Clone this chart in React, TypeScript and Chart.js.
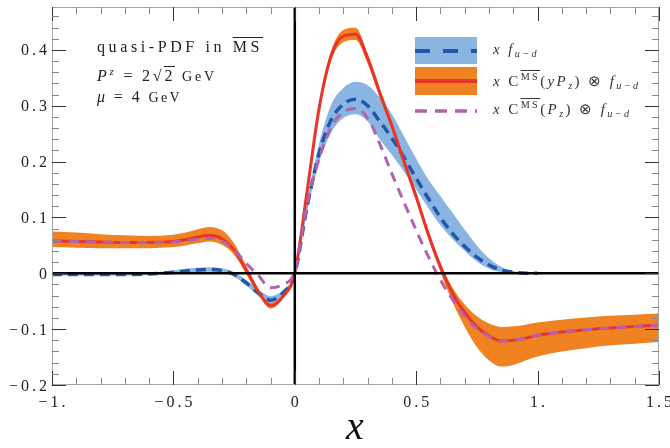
import React, { useEffect, useRef } from "react";
import { Chart, registerables } from "chart.js";
Chart.register(...registerables);

// ---------------- data ----------------
const xs = [-1, -0.9, -0.8, -0.7, -0.6, -0.5, -0.45, -0.4, -0.35, -0.3, -0.25, -0.2, -0.15, -0.1, -0.05, 0, 0.05, 0.1, 0.15, 0.2, 0.25, 0.3, 0.35, 0.4, 0.45, 0.5, 0.55, 0.6, 0.65, 0.7, 0.75, 0.8, 0.85, 0.9, 0.95, 1.0, 1.1, 1.2, 1.3, 1.4, 1.5];

// x f_{u-d} (lattice) central + band
const fCentral = [-0.002, -0.002, -0.002, -0.002, -0.001, 0.002, 0.004, 0.006, 0.007, 0.005, -0.002, -0.017, -0.035, -0.048, -0.036, 0, 0.118, 0.215, 0.275, 0.303, 0.312, 0.3, 0.272, 0.242, 0.207, 0.17, 0.134, 0.1, 0.071, 0.048, 0.029, 0.015, 0.006, 0.002, 0, 0, null, null, null, null, null];
const fUpper = [0, 0, 0, 0, 0.001, 0.005, 0.008, 0.01, 0.011, 0.009, 0.002, -0.012, -0.029, -0.041, -0.03, 0.003, 0.128, 0.232, 0.302, 0.332, 0.343, 0.337, 0.315, 0.285, 0.245, 0.205, 0.168, 0.138, 0.108, 0.078, 0.05, 0.027, 0.012, 0.004, 0.001, 0, null, null, null, null, null];
const fLower = [-0.004, -0.004, -0.004, -0.004, -0.003, -0.001, 0.001, 0.002, 0.003, 0.001, -0.006, -0.022, -0.041, -0.055, -0.041, -0.003, 0.108, 0.198, 0.252, 0.278, 0.285, 0.272, 0.24, 0.212, 0.182, 0.15, 0.117, 0.086, 0.061, 0.04, 0.021, 0.008, 0.002, 0, 0, 0, null, null, null, null, null];

// x C(yPz) ⊗ f central + band
const cyCentral = [0.058, 0.057, 0.056, 0.055, 0.055, 0.057, 0.06, 0.065, 0.068, 0.062, 0.042, 0.006, -0.033, -0.058, -0.042, 0, 0.145, 0.295, 0.39, 0.425, 0.428, 0.385, 0.323, 0.264, 0.2, 0.137, 0.07, 0.012, -0.036, -0.07, -0.096, -0.112, -0.121, -0.12, -0.116, -0.111, -0.105, -0.101, -0.098, -0.095, -0.093];
const cyUpper = [0.075, 0.073, 0.07, 0.068, 0.067, 0.069, 0.073, 0.079, 0.083, 0.077, 0.054, 0.014, -0.027, -0.053, -0.037, 0.004, 0.153, 0.303, 0.399, 0.436, 0.44, 0.394, 0.332, 0.272, 0.208, 0.145, 0.077, 0.018, -0.026, -0.056, -0.077, -0.09, -0.096, -0.095, -0.092, -0.088, -0.083, -0.079, -0.076, -0.074, -0.072];
const cyLower = [0.047, 0.046, 0.045, 0.045, 0.045, 0.047, 0.05, 0.054, 0.057, 0.051, 0.033, -0.001, -0.038, -0.063, -0.046, -0.004, 0.137, 0.287, 0.381, 0.414, 0.418, 0.376, 0.315, 0.256, 0.192, 0.129, 0.062, 0.002, -0.052, -0.096, -0.132, -0.156, -0.167, -0.164, -0.156, -0.149, -0.14, -0.134, -0.129, -0.126, -0.123];

// x C(Pz) ⊗ f
const cPz = [0.058, 0.057, 0.056, 0.055, 0.055, 0.056, 0.058, 0.061, 0.063, 0.058, 0.042, 0.018, -0.004, -0.026, -0.02, 0.004, 0.122, 0.205, 0.262, 0.289, 0.295, 0.278, 0.232, 0.178, 0.127, 0.077, 0.03, -0.012, -0.047, -0.077, -0.099, -0.113, -0.121, -0.12, -0.116, -0.111, -0.105, -0.101, -0.098, -0.095, -0.093];

const xTickValues = [-1, -0.5, 0, 0.5, 1, 1.5];
const xTickLabels = ["\u22121.", "\u22120.5", "0", "0.5", "1.", "1.5"];
const yTickValues = [-0.2, -0.1, 0, 0.1, 0.2, 0.3, 0.4];
const yTickLabels = ["\u22120.2", "\u22120.1", "0", "0.1", "0.2", "0.3", "0.4"];
const X_MIN = -1, X_MAX = 1.5, Y_MIN = -0.2, Y_MAX = 0.477;

// ---------------- styles ----------------
const BLUE_BAND = "#8AB4E2";
const BLUE_LINE = "#2257A8";
const ORANGE = "#F18222";
const RED = "#E8352B";
const PURPLE = "#B461AE";
const SERIF = '"Liberation Serif", "Times New Roman", serif';

const pts = (ys: (number | null)[]) =>
  xs.map((x, i) => ({ x, y: ys[i] })).filter((p) => p.y !== null) as { x: number; y: number }[];

function textSpaced(ctx: CanvasRenderingContext2D, text: string, x: number, y: number, align: "center" | "right", ls: number) {
  (ctx as any).letterSpacing = "0px";
  const w0 = ctx.measureText(text).width;
  const n = Array.from(text).length;
  const w = w0 + (n - 1) * ls;
  const start = align === "center" ? x - w / 2 : x - w;
  (ctx as any).letterSpacing = ls + "px";
  ctx.textAlign = "left";
  ctx.fillText(text, start, y);
  (ctx as any).letterSpacing = "0px";
}

const framePlugin = {
  id: "frameAxes",
  afterDatasetsDraw(chart: any) {
    const { ctx, chartArea: a, scales } = chart;
    const xs_ = scales.x, ys_ = scales.y;
    ctx.save();
    // axes at zero
    ctx.strokeStyle = "#000";
    ctx.lineWidth = 2.5;
    const x0 = xs_.getPixelForValue(0), y0 = ys_.getPixelForValue(0);
    ctx.beginPath();
    ctx.moveTo(x0, a.top); ctx.lineTo(x0, a.bottom);
    ctx.moveTo(a.left, y0); ctx.lineTo(a.right, y0);
    ctx.stroke();
    // frame
    ctx.strokeStyle = "#a6a6a6";
    ctx.lineWidth = 1;
    ctx.strokeRect(a.left + 0.5, a.top + 0.5, a.right - a.left - 1, a.bottom - a.top - 1);
    // x ticks
    for (let k = 0; k <= 25; k++) {
      const v = X_MIN + k * 0.1;
      const major = k % 5 === 0;
      const px = Math.round(xs_.getPixelForValue(v)) + 0.5;
      const len = major ? 14 : 7;
      ctx.strokeStyle = major ? "#333" : "#888";
      ctx.lineWidth = 1;
      ctx.beginPath();
      ctx.moveTo(px, a.bottom); ctx.lineTo(px, a.bottom - len);
      ctx.moveTo(px, a.top); ctx.lineTo(px, a.top + len);
      ctx.stroke();
    }
    // y ticks
    for (let k = 0; k <= 33; k++) {
      const v = Y_MIN + k * 0.02;
      if (v > Y_MAX) break;
      const major = k % 5 === 0;
      const py = Math.round(ys_.getPixelForValue(v)) + 0.5;
      const len = major ? 14 : 7;
      ctx.strokeStyle = major ? "#333" : "#888";
      ctx.lineWidth = 1;
      ctx.beginPath();
      ctx.moveTo(a.left, py); ctx.lineTo(a.left + len, py);
      ctx.moveTo(a.right, py); ctx.lineTo(a.right - len, py);
      ctx.stroke();
    }
    // tick labels
    ctx.fillStyle = "#222";
    ctx.font = "16px " + SERIF;
    ctx.textBaseline = "alphabetic";
    xTickValues.forEach((v, i) => {
      textSpaced(ctx, xTickLabels[i], xs_.getPixelForValue(v), a.bottom + 22, "center", 3);
    });
    yTickValues.forEach((v, i) => {
      textSpaced(ctx, yTickLabels[i], a.left - 5, ys_.getPixelForValue(v) + 5.5, "right", 3);
    });
    ctx.restore();
  },
  afterDraw(chart: any) {
    const ctx = chart.ctx;
    ctx.save();
    ctx.fillStyle = BLUE_BAND;
    ctx.fillRect(415, 37, 62, 27);
    ctx.strokeStyle = BLUE_LINE;
    ctx.lineWidth = 4;
    ctx.setLineDash([15, 13]);
    ctx.beginPath(); ctx.moveTo(415, 51); ctx.lineTo(477, 51); ctx.stroke();
    ctx.fillStyle = ORANGE;
    ctx.fillRect(415, 67, 62, 28);
    ctx.setLineDash([]);
    ctx.strokeStyle = RED;
    ctx.lineWidth = 4;
    ctx.beginPath(); ctx.moveTo(415, 81); ctx.lineTo(477, 81); ctx.stroke();
    ctx.strokeStyle = PURPLE;
    ctx.lineWidth = 3.5;
    ctx.setLineDash([12, 8]);
    ctx.beginPath(); ctx.moveTo(415, 111); ctx.lineTo(477, 111); ctx.stroke();
    ctx.restore();
  },
};

export default function App() {
  const ref = useRef<HTMLCanvasElement>(null);
  useEffect(() => {
    const common = { pointRadius: 0, cubicInterpolationMode: "monotone" as const, spanGaps: false };
    const chart = new Chart(ref.current!, {
      type: "line",
      data: {
        datasets: [
          { ...common, data: pts(fUpper), borderWidth: 0, borderColor: "rgba(0,0,0,0)", backgroundColor: BLUE_BAND, fill: "+1", order: 7 },
          { ...common, data: pts(fLower), borderWidth: 0, borderColor: "rgba(0,0,0,0)", fill: false, order: 6 },
          { ...common, data: pts(cyUpper), borderWidth: 0, borderColor: "rgba(0,0,0,0)", backgroundColor: ORANGE, fill: "+1", order: 5 },
          { ...common, data: pts(cyLower), borderWidth: 0, borderColor: "rgba(0,0,0,0)", fill: false, order: 4 },
          { ...common, data: pts(fCentral), borderWidth: 3.5, borderColor: BLUE_LINE, borderDash: [10, 6], fill: false, order: 3 },
          { ...common, data: pts(cyCentral), borderWidth: 3, borderColor: RED, fill: false, order: 2 },
          { ...common, data: pts(cPz), borderWidth: 3, borderColor: PURPLE, borderDash: [10, 7], fill: false, order: 1 },
        ] as any,
      },
      options: {
        animation: false,
        responsive: false,
        devicePixelRatio: 1,
        events: [],
        layout: { padding: { left: 0, right: 11, top: 7, bottom: 0 } },
        plugins: { legend: { display: false }, tooltip: { enabled: false } },
        scales: {
          x: {
            type: "linear",
            min: X_MIN,
            max: X_MAX,
            grid: { display: false, drawTicks: false },
            border: { display: false },
            ticks: { display: false },
            afterFit: (s: any) => { s.height = 63; },
          },
          y: {
            type: "linear",
            min: Y_MIN,
            max: Y_MAX,
            grid: { display: false, drawTicks: false },
            border: { display: false },
            ticks: { display: false },
            afterFit: (s: any) => { s.width = 52; },
          },
        },
      },
      plugins: [framePlugin],
    });
    return () => chart.destroy();
  }, []);

  const abs = (left: number, top: number, extra: React.CSSProperties = {}): React.CSSProperties => ({
    position: "absolute", left, top, whiteSpace: "nowrap", lineHeight: 1, ...extra,
  });
  const sup: React.CSSProperties = { fontSize: "0.68em", position: "relative", top: "-0.55em" };
  const sub: React.CSSProperties = { fontSize: "0.68em", position: "relative", top: "0.3em" };
  const over: React.CSSProperties = { textDecoration: "overline" };

  return (
    <div style={{ position: "fixed", left: 0, top: 0, width: 670, height: 448, background: "#fff", fontFamily: SERIF, color: "#222" }}>
      <canvas ref={ref} width={670} height={448} style={{ position: "absolute", left: 0, top: 0, width: 670, height: 448 }} />
      <div style={abs(97, 39, { fontSize: 16, letterSpacing: "3.6px" })}>
        quasi-PDF in <span style={over}>MS</span>
      </div>
      <div style={abs(97, 68, { fontSize: 16, letterSpacing: "2.8px" })}>
        <i>P</i><span style={sup}><i>z</i></span> = 2<span>{"\u221A"}</span><span style={{ borderTop: "1px solid #222" }}>2</span> <span style={{ fontSize: 14 }}>GeV</span>
      </div>
      <div style={abs(97, 89, { fontSize: 16, letterSpacing: "2.4px" })}>
        <i>{"\u03BC"}</i> = 4 <span style={{ fontSize: 14 }}>GeV</span>
      </div>
      <div style={abs(493, 42, { fontSize: 15, letterSpacing: "2.4px", color: "#333" })}>
        <i>x f</i><span style={sub}><i>u{"\u2212"}d</i></span>
      </div>
      <div style={abs(493, 74, { fontSize: 15, letterSpacing: "2.4px", color: "#333" })}>
        <i>x</i> C<span style={sup}><span style={over}>MS</span></span>(<i>yP</i><span style={sub}><i>z</i></span>) {"\u2297"} <i>f</i><span style={sub}><i>u{"\u2212"}d</i></span>
      </div>
      <div style={abs(493, 102, { fontSize: 15, letterSpacing: "2.4px", color: "#333" })}>
        <i>x</i> C<span style={sup}><span style={over}>MS</span></span>(<i>P</i><span style={sub}><i>z</i></span>) {"\u2297"} <i>f</i><span style={sub}><i>u{"\u2212"}d</i></span>
      </div>
      <div style={abs(346, 406, { fontSize: 40, fontStyle: "italic", color: "#111" })}>x</div>
    </div>
  );
}
